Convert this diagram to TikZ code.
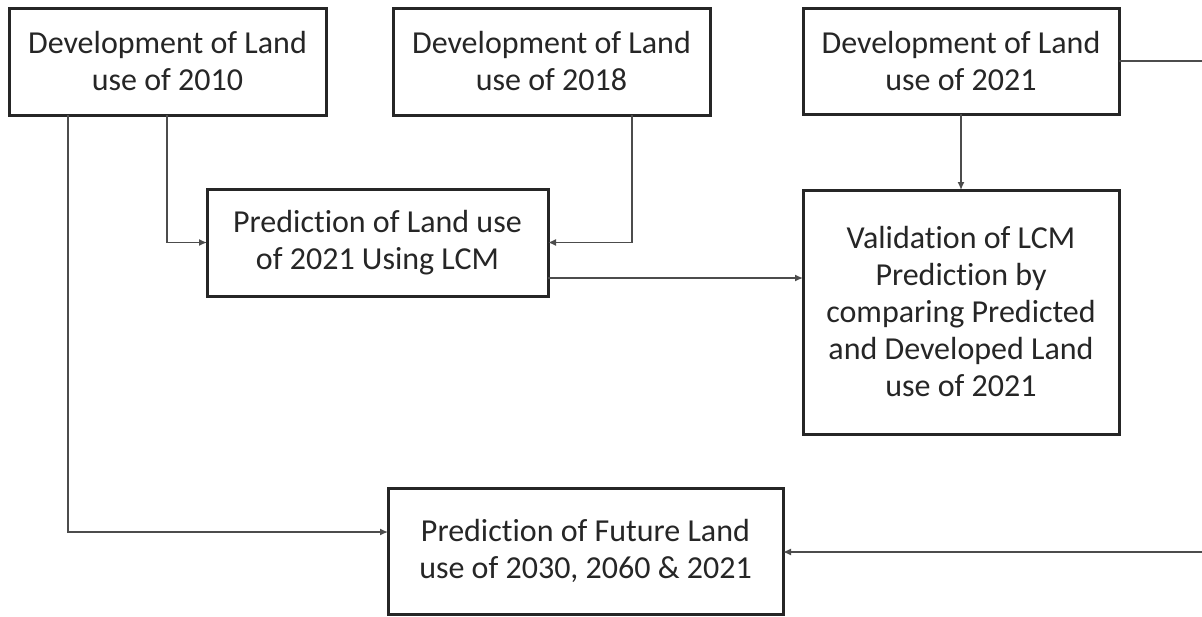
\documentclass[tikz,border=0pt]{standalone}
\usepackage{fontspec}
\setmainfont{Carlito}[Ligatures=NoCommon]
\usetikzlibrary{arrows.meta}
\begin{document}
\begin{tikzpicture}[x=1pt,y=-1pt,
  stepbox/.style={draw=black!85,line width=3pt,fill=white,inner sep=0pt,outer sep=0pt,
    align=center,text=black!85,font=\fontsize{32}{37}\selectfont},
  link/.style={draw=black!70,line width=1.4pt},
  arrowlink/.style={link,-{Latex[length=8pt,width=7pt]}}]
\useasboundingbox (0,0) rectangle (1202,616);

% process boxes
\node[stepbox,minimum width=317pt,minimum height=107pt] (A) at (167.5,61.5)
  {Development of Land\\use of 2010};
\node[stepbox,minimum width=317pt,minimum height=107pt] (B) at (551.5,61.5)
  {Development of Land\\use of 2018};
\node[stepbox,minimum width=316pt,minimum height=106pt] (C) at (961,61)
  {Development of Land\\use of 2021};
\node[stepbox,minimum width=341pt,minimum height=107pt] (P) at (377.5,242.5)
  {Prediction of Land use\\of 2021 Using LCM};
\node[stepbox,minimum width=316pt,minimum height=244pt] (V) at (961,312)
  {Validation of LCM\\Prediction by\\comparing Predicted\\and Developed Land\\use of 2021};
\node[stepbox,minimum width=395pt,minimum height=126pt] (F) at (585.5,551)
  {Prediction of Future Land\\use of 2030, 2060 \& 2021};

% ends of the return line at the right margin
\coordinate (edgeTop) at (1202,61);
\coordinate (edgeBot) at (1202,552);

% connectors
\draw[arrowlink] (A.south -| 68,0) |- (F.west |- 0,532);
\draw[arrowlink] (A.south -| 167,0) |- (P.west);
\draw[arrowlink] (B.south -| 632,0) |- (P.east);
\draw[arrowlink] (C.south) -- (V.north);
\draw[arrowlink] (P.east |- 0,278) -- (V.west |- 0,278);
\draw[link] (C.east) -- (edgeTop);
\draw[arrowlink] (edgeBot) -- (F.east |- edgeBot);
\end{tikzpicture}
\end{document}
